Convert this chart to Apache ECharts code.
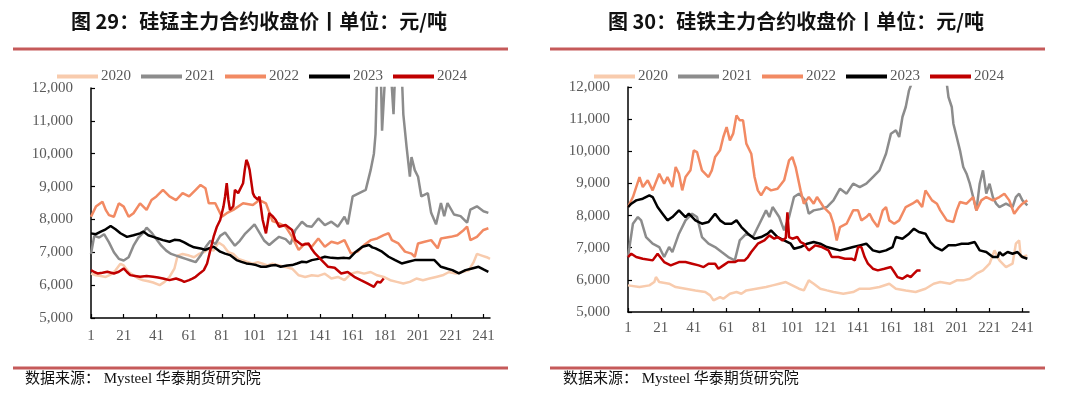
<!DOCTYPE html>
<html>
<head>
<meta charset="utf-8">
<script src="https://cdn.jsdelivr.net/npm/echarts@6/dist/echarts.min.js"></script>
<style>
  body{margin:0;background:#fff;}
  #wrap{display:flex;width:1080px;height:398px;}
  .chart{width:540px;height:398px;}
</style>
</head>
<body>
<div id="wrap"><div id="c1" class="chart"></div><div id="c2" class="chart"></div></div>
<script>
// 交易日序号 1..245
var dayCount = 245;
var years = ['2020', '2021', '2022', '2023', '2024'];
var colors = ['#f8cbad', '#8c8c8c', '#f28a63', '#000000', '#c00000'];
var yMin = 5000, yMax = 12000, yStep = 1000;

// 硅锰 [交易日, 收盘价]
var siMn2020 = [[1,6350],[4,6300],[7,6280],[10,6250],[13,6320],[16,6450],[19,6650],[21,6600],[24,6400],[27,6300],[30,6200],[33,6150],[36,6120],[39,6080],[43,6000],[46,6100],[49,6250],[52,6500],[54,6900],[57,6950],[61,6900],[64,6850],[67,6950],[70,7000],[73,7100],[76,7050],[79,7300],[82,7200],[85,7000],[88,6950],[91,6800],[94,6750],[97,6700],[100,6650],[103,6700],[106,6650],[109,6600],[112,6650],[116,6600],[120,6550],[124,6500],[128,6300],[132,6250],[136,6300],[140,6280],[144,6350],[148,6200],[152,6250],[156,6150],[160,6350],[164,6400],[168,6350],[172,6400],[176,6300],[180,6250],[184,6150],[188,6100],[192,6050],[196,6100],[200,6200],[204,6150],[208,6200],[212,6250],[216,6300],[220,6400],[224,6350],[228,6400],[232,6450],[235,6700],[237,6950],[240,6900],[243,6850],[245,6800]];
var siMn2021 = [[1,6950],[3,7500],[6,7450],[9,7550],[12,7300],[15,7000],[18,6800],[21,6750],[24,6850],[27,7200],[30,7450],[33,7600],[35,7750],[38,7600],[41,7400],[44,7200],[47,7050],[50,6950],[53,6900],[56,6850],[59,6800],[62,6750],[65,6700],[68,6900],[71,7150],[74,7350],[77,7250],[80,7500],[83,7600],[86,7400],[89,7200],[92,7350],[95,7550],[98,7700],[101,7850],[104,7600],[107,7350],[110,7220],[113,7350],[116,7470],[120,7400],[123,7250],[126,7680],[130,7930],[133,7800],[136,7780],[140,8030],[144,7830],[148,7930],[152,7780],[156,8080],[158,7850],[161,8700],[165,8800],[169,8900],[172,9500],[174,10000],[175,10600],[176,12500],[178,13000],[179,10700],[181,12500],[183,13500],[185,12000],[186,11200],[187,12500],[189,13500],[191,12500],[192,11200],[194,10200],[196,9300],[197,9900],[199,9500],[201,9300],[203,8700],[207,8800],[209,8200],[212,7850],[215,8500],[217,8100],[219,8500],[223,8150],[227,8100],[231,7900],[233,8300],[237,8400],[241,8250],[244,8200]];
var siMn2022 = [[1,8080],[4,8390],[8,8540],[10,8290],[12,8130],[15,8080],[18,8490],[21,8390],[24,8080],[27,8190],[31,8490],[35,8290],[38,8590],[41,8700],[45,8900],[49,8700],[53,8590],[57,8800],[61,8700],[65,8900],[68,9050],[71,8950],[73,8490],[77,8490],[81,8080],[84,8190],[88,8290],[94,8490],[100,8440],[104,8590],[108,8490],[112,7950],[116,7880],[120,7780],[124,7470],[128,7070],[132,7270],[136,7170],[140,7420],[144,7170],[148,7320],[152,7270],[156,7370],[160,6960],[164,7020],[168,7220],[172,7370],[176,7420],[180,7520],[183,7580],[185,7370],[189,7270],[193,7020],[197,6960],[199,6860],[201,7270],[205,7320],[209,7370],[213,7120],[215,7420],[221,7470],[225,7520],[229,7680],[231,7780],[233,7370],[237,7470],[241,7680],[244,7730]];
var siMn2023 = [[1,7576],[4,7550],[7,7630],[10,7700],[13,7800],[16,7700],[19,7580],[23,7470],[27,7520],[31,7576],[33,7630],[36,7520],[39,7470],[42,7420],[45,7370],[49,7320],[52,7380],[55,7370],[58,7300],[61,7220],[64,7150],[68,7118],[71,7070],[73,7120],[76,7170],[80,7020],[83,6960],[86,6915],[90,6762],[93,6710],[96,6661],[99,6640],[102,6610],[105,6560],[108,6559],[111,6600],[114,6610],[117,6560],[121,6600],[124,6610],[127,6660],[130,6712],[133,6700],[136,6762],[140,6800],[144,6864],[148,6830],[152,6815],[156,6830],[159,6815],[163,7017],[167,7169],[171,7220],[173,7150],[175,7118],[179,7017],[183,6864],[187,6762],[191,6661],[195,6712],[199,6762],[205,6762],[211,6762],[215,6559],[219,6500],[222,6457],[226,6355],[230,6457],[234,6508],[238,6559],[241,6480],[244,6406]];
var siMn2024 = [[1,6457],[3,6400],[5,6356],[8,6380],[11,6407],[15,6356],[18,6407],[21,6508],[23,6400],[25,6305],[28,6280],[31,6254],[35,6280],[39,6254],[42,6230],[45,6203],[49,6152],[53,6203],[56,6150],[58,6101],[61,6152],[63,6200],[65,6254],[68,6380],[70,6457],[72,6661],[74,7068],[76,7474],[78,7779],[80,7983],[82,8390],[83,8700],[84,9102],[85,8600],[86,8288],[88,8400],[89,8898],[91,8800],[92,8850],[94,9102],[95,9500],[96,9813],[97,9700],[98,9508],[100,8800],[101,8695],[103,8600],[104,8695],[106,7983],[108,7576],[110,8186],[112,8100],[114,7983],[116,7779],[120,7830],[124,7678],[126,7372],[130,7220],[134,7270],[136,7100],[138,6966],[142,6762],[146,6559],[150,6530],[154,6356],[158,6400],[162,6254],[166,6152],[170,6051],[172,6000],[174,5949],[176,6101],[178,6080],[180,6203]];

// 硅铁 [交易日, 收盘价]
var siFe2020 = [[1,5828],[8,5776],[14,5828],[17,5932],[18,6087],[20,5932],[26,5880],[30,5776],[36,5724],[42,5672],[48,5621],[51,5517],[53,5361],[57,5465],[59,5413],[63,5569],[67,5621],[70,5569],[73,5672],[79,5724],[85,5776],[89,5828],[93,5880],[97,5932],[101,5828],[105,5724],[108,5672],[111,5984],[114,5880],[118,5724],[122,5672],[126,5621],[132,5569],[138,5621],[142,5724],[148,5724],[154,5776],[160,5880],[164,5724],[170,5672],[176,5621],[182,5724],[187,5880],[191,5932],[197,5880],[201,5984],[205,5984],[209,6035],[213,6191],[217,6295],[221,6502],[224,6917],[227,6606],[231,6398],[235,6502],[237,7125],[239,7228],[240,6710],[244,6762]];
var siFe2021 = [[1,6710],[4,7747],[7,7955],[9,7851],[12,7332],[16,7125],[20,7021],[23,6710],[26,7021],[28,6865],[32,7436],[36,7851],[40,8058],[43,7955],[46,7332],[50,7125],[54,7021],[58,6865],[62,6710],[66,6606],[69,7228],[73,7436],[77,7332],[81,7747],[85,8162],[87,7955],[89,8266],[93,7955],[96,7540],[99,7955],[102,8577],[105,8681],[109,8473],[111,8058],[114,8162],[118,8200],[122,8266],[126,8473],[130,8836],[134,8681],[138,8992],[142,8888],[146,8992],[150,9199],[154,9407],[158,9925],[161,10548],[164,10652],[166,10444],[168,11067],[170,11378],[172,11896],[175,12300],[180,13500],[185,14500],[190,14000],[194,12500],[196,11689],[198,11378],[199,10859],[201,10444],[203,10029],[205,9510],[207,9303],[209,8992],[211,8577],[213,8162],[215,8992],[217,9407],[219,8681],[221,8992],[223,8577],[225,8370],[227,8266],[231,8370],[235,8266],[237,8577],[239,8681],[241,8473],[244,8318]];
var siFe2022 = [[1,8266],[4,8577],[8,9199],[10,8888],[13,9096],[16,8784],[20,9303],[23,8992],[25,9199],[28,8888],[30,9510],[32,9303],[34,8784],[36,9199],[39,9407],[41,10029],[43,9977],[46,9407],[50,9199],[52,9407],[54,9822],[57,10029],[59,10444],[61,10755],[63,10340],[65,10548],[67,11118],[69,10963],[71,10963],[73,10237],[76,9925],[78,9199],[80,8784],[82,8629],[85,8888],[88,8784],[92,8836],[96,9096],[99,9718],[101,9822],[103,9510],[106,8784],[108,8370],[111,8577],[114,8370],[116,8577],[120,8266],[124,8058],[126,7747],[128,7228],[130,7644],[134,7747],[138,8162],[141,8162],[143,7851],[146,7955],[148,8058],[150,7851],[153,7644],[156,8162],[158,8266],[160,7851],[163,7747],[166,7851],[170,8266],[174,8370],[177,8473],[180,8266],[182,8784],[186,8473],[189,8370],[191,8162],[195,7851],[199,7799],[201,8162],[203,8421],[207,8370],[211,8577],[213,8162],[216,8473],[219,8577],[223,8473],[227,8577],[230,8681],[233,8473],[236,8058],[239,8266],[241,8370],[244,8473]];
var siFe2023 = [[1,8266],[3,8370],[6,8473],[10,8525],[14,8629],[16,8577],[19,8266],[22,8058],[25,7851],[28,7955],[32,8162],[36,7955],[38,8058],[42,7851],[46,7747],[50,7799],[54,8058],[57,7851],[60,7747],[64,7747],[67,7851],[70,7644],[74,7436],[78,7280],[82,7332],[86,7436],[88,7540],[92,7332],[96,7228],[100,7125],[102,6969],[106,7021],[110,7125],[114,7176],[118,7125],[122,7021],[126,6969],[130,6917],[134,6969],[138,7021],[142,7073],[146,7125],[150,6917],[154,6865],[158,6917],[162,7021],[164,7332],[168,7280],[172,7436],[175,7592],[178,7488],[182,7436],[185,7176],[188,7021],[192,6917],[196,7073],[200,7073],[204,7125],[208,7125],[212,7176],[215,6917],[219,6865],[223,6710],[226,6710],[227,6865],[229,6762],[232,6865],[235,6814],[238,6865],[241,6710],[244,6658]];
var siFe2024 = [[1,6710],[3,6814],[6,6710],[10,6658],[16,6606],[19,6814],[23,6554],[27,6450],[32,6554],[36,6554],[40,6502],[44,6450],[47,6398],[50,6502],[54,6502],[56,6346],[59,6450],[62,6554],[66,6554],[68,6606],[72,6606],[74,6710],[76,6865],[80,7125],[84,7228],[87,7384],[90,7280],[92,7332],[95,7228],[97,7300],[98,8100],[99,7332],[101,7280],[104,7332],[106,7176],[108,7125],[111,6917],[115,7073],[119,7021],[123,6917],[125,6710],[129,6710],[133,6658],[137,6658],[139,6606],[141,7021],[143,7021],[145,6710],[147,6502],[150,6346],[153,6295],[157,6346],[161,6398],[163,6243],[165,6087],[168,6035],[171,6139],[173,6087],[175,6191],[177,6295],[179,6295]];

var categories = [];
for (var i = 1; i <= dayCount; i++) categories.push(String(i));

function fmtNum(v){ return String(v).replace(/\B(?=(\d{3})+(?!\d))/g, ','); }

function drawChart(el, cfg){
  var chart = echarts.init(document.getElementById(el));
  var series = cfg.data.map(function(arr, k){
    return {
      name: years[k], type: 'line', showSymbol: false, symbol: 'none',
      lineStyle: {width: 2.5, color: colors[k]}, itemStyle: {color: colors[k]},
      data: arr.map(function(p){ return [p[0] - 1, p[1]]; })
    };
  });
  var option = {
    animation: false,
    grid: {left: cfg.gridLeft, right: cfg.gridRight, top: cfg.gridTop, bottom: cfg.gridBottom},
    legend: {
      data: years, left: cfg.legendLeft, top: 64, icon: 'rect',
      itemWidth: 41, itemHeight: 4, itemGap: 10,
      textStyle: {fontFamily: 'Liberation Serif', fontSize: 15, color: '#595959', padding: [0,0,0,-2]}
    },
    xAxis: {
      type: 'category', data: categories, boundaryGap: false,
      axisLine: {lineStyle: {color: '#000', width: 1.5}},
      axisTick: {inside: true, length: 4, interval: 19, lineStyle: {color: '#000', width: 1.2}},
      axisLabel: {interval: 19, margin: cfg.xLabelMargin, fontFamily: 'Liberation Serif', fontSize: 15, color: '#595959'}
    },
    yAxis: {
      type: 'value', min: yMin, max: yMax, interval: yStep,
      axisLine: {show: true, lineStyle: {color: '#000', width: 1.5}},
      axisTick: {show: true, inside: true, length: 4, lineStyle: {color: '#000', width: 1.2}},
      splitLine: {show: false},
      axisLabel: {margin: 18, fontFamily: 'Liberation Serif', fontSize: 15, color: '#595959', formatter: fmtNum}
    },
    graphic: [
      {type: 'text', left: cfg.titleX, top: 11, style: {text: cfg.title, font: 'bold 20px "Noto Sans CJK SC"', fill: '#111'}},
      {type: 'rect', shape: {x: cfg.lineX, y: 47.5, width: 495, height: 3}, style: {fill: '#c55a5a'}},
      {type: 'rect', shape: {x: cfg.lineX, y: 366.5, width: 495, height: 3}, style: {fill: '#c55a5a'}},
      {type: 'text', left: cfg.srcX, top: 372, style: {text: '数据来源： Mysteel 华泰期货研究院', font: '15px "Liberation Serif", "Noto Sans CJK SC"', fill: '#111'}}
    ],
    series: series
  };
  chart.setOption(option);
}

drawChart('c1', {
  title: '图 29：硅锰主力合约收盘价丨单位：元/吨',
  data: [siMn2020, siMn2021, siMn2022, siMn2023, siMn2024],
  gridLeft: 91, gridRight: 50, gridTop: 88, gridBottom: 80, xLabelMargin: 11,
  legendLeft: 52, titleX: 71, lineX: 13, srcX: 25
});
drawChart('c2', {
  title: '图 30：硅铁主力合约收盘价丨单位：元/吨',
  data: [siFe2020, siFe2021, siFe2022, siFe2023, siFe2024],
  gridLeft: 88, gridRight: 51, gridTop: 87, gridBottom: 86, xLabelMargin: 9,
  legendLeft: 49, titleX: 68, lineX: 10, srcX: 23
});
</script>
</body>
</html>
